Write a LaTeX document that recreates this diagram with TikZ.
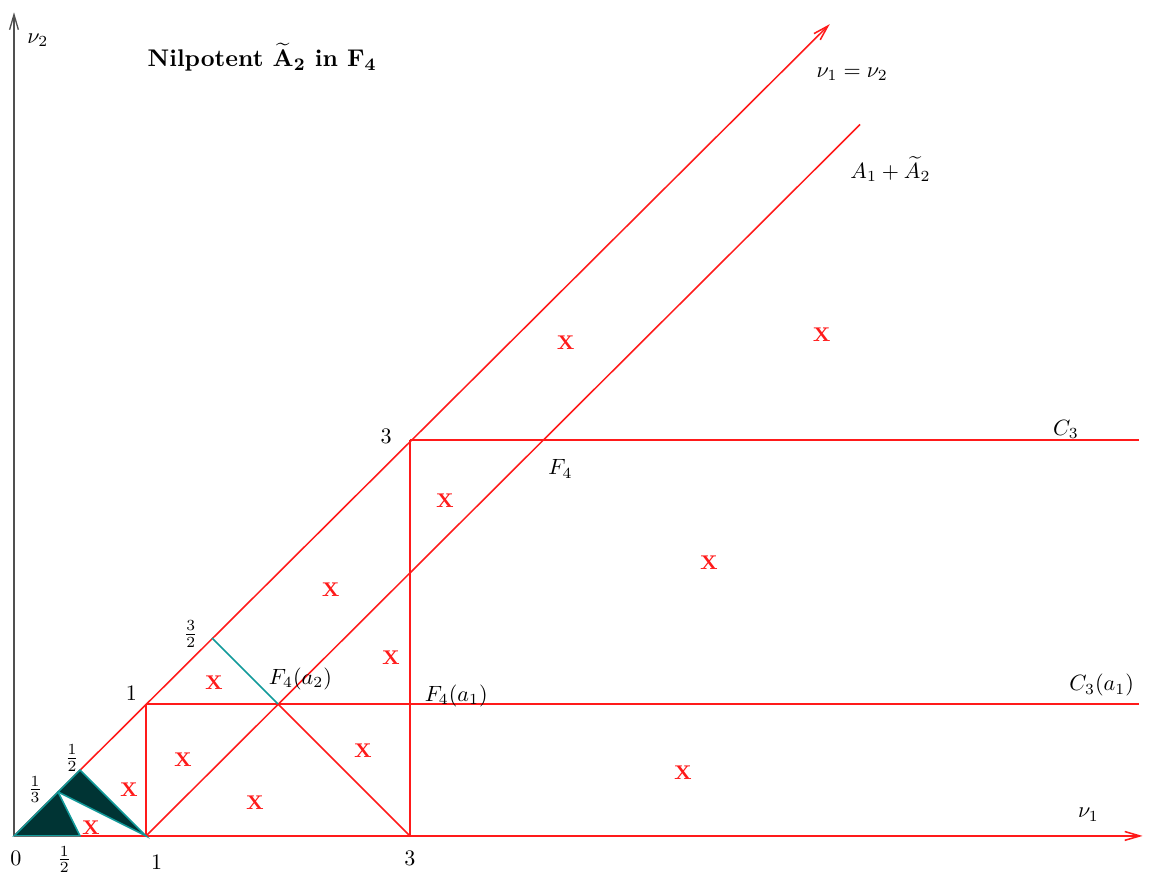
\documentclass[tikz,border=0pt]{standalone}
\usepackage{amsmath,amssymb}
\usetikzlibrary{arrows.meta,calc}
\definecolor{WallRed}{HTML}{FF1A1A}
\definecolor{EdgeTeal}{HTML}{129A9A}
\definecolor{CellDark}{HTML}{003434}
\definecolor{AxisGray}{HTML}{505050}
\newcommand{\titletext}{\textbf{\mathversion{bold}Nilpotent $\widetilde{\mathbf{A}}_{\mathbf{2}}$ in $\mathbf{F_4}$}}

\begin{document}
\begin{tikzpicture}[x=2.1cm, y=2.1cm,
    wall/.style={WallRed, line width=0.7pt},
    edge/.style={EdgeTeal, line width=0.7pt},
    tip/.style={-{Straight Barb[length=2.4mm, width=1.4mm]}},
    xmark/.style={text=WallRed, font=\small\bfseries},
    lbl/.style={inner sep=1pt}]
  \useasboundingbox (-0.106,-0.348) rectangle (8.644,6.333);

  % Corners of the walls.
  \coordinate (O) at (0,0);
  \coordinate (Hx) at (0.5,0);
  \coordinate (Th) at (1/3,1/3);
  \coordinate (Hd) at (0.5,0.5);
  \coordinate (E1) at (1,0);
  \coordinate (D1) at (1,1);
  \coordinate (Dm) at (1.5,1.5);
  \coordinate (M) at (2,1);
  \coordinate (E3) at (3,0);
  \coordinate (D3) at (3,3);
  \coordinate (Xtip) at (8.55,0);
  \coordinate (Ytip) at (0,6.24);
  \coordinate (Dtip) at (6.18,6.15);
  \coordinate (Aend) at (6.41,5.39);
  \coordinate (C1end) at (8.52,1);
  \coordinate (C3end) at (8.52,3);

  % Axes and the reducibility walls.
  \draw[tip, AxisGray, line width=0.6pt] (O) -- (Ytip);
  \draw[tip, wall] (O) -- (Xtip);
  \draw[tip, wall] (O) -- (Dtip);
  \draw[wall] (E1) -- (Aend);
  \draw[wall] (D1) -- (C1end);
  \draw[wall] (D3) -- (C3end);
  \draw[wall] (E1) -- (D1);
  \draw[wall] (E3) -- (D3);
  \draw[wall] (M) -- (E3);
  \draw[edge] (Dm) -- (M);

  % Unitary region near the origin.
  \filldraw[CellDark, draw=EdgeTeal, line width=0.7pt] (O) -- (Th) -- (Hx) -- cycle;
  \filldraw[CellDark, draw=EdgeTeal, line width=0.7pt] (Th) -- (Hd) -- (E1) -- cycle;

  % Non-unitary cells.
  \foreach \x/\y [count=\i] in {0.583/0.061,0.871/0.348,1.28/0.576,1.515/1.159,
      1.826/0.25,2.40/1.864,2.856/1.348,2.644/0.644,3.265/2.538,4.18/3.74,
      5.265/2.068,6.12/3.795,5.068/0.477}{
    \node[xmark] (x\i) at (\x,\y) {X};
  }

  % Labels.
  \node[lbl] (nu2) at (0.18,6.03) {$\nu_2$};
  \node[lbl] (nu1) at (8.14,0.16) {$\nu_1$};
  \node[lbl, font=\fontsize{10.9}{13}\selectfont] (title) at (1.88,5.90) {\titletext};
  \node[lbl] (diag) at (6.35,5.77) {$\nu_1=\nu_2$};
  \node[lbl] (aone) at (6.64,5.05) {$A_1+\widetilde{A}_2$};
  \node[lbl] (cthree) at (7.97,3.08) {$C_3$};
  \node[lbl] (ffour) at (4.14,2.78) {$F_4$};
  \node[lbl] (cthreea) at (8.24,1.14) {$C_3(a_1)$};
  \node[lbl] (ffoura) at (3.35,1.06) {$F_4(a_1)$};
  \node[lbl] (ffourb) at (2.17,1.19) {$F_4(a_2)$};
  \node[lbl] (one) at (0.89,1.08) {$1$};
  \node[lbl] (three) at (2.82,3.03) {$3$};
  \node[lbl] (threehalf) at (1.34,1.53) {$\frac{3}{2}$};
  \node[lbl] (halfd) at (0.44,0.59) {$\frac{1}{2}$};
  \node[lbl] (third) at (0.16,0.35) {$\frac{1}{3}$};
  \node[lbl] (zero) at (0.015,-0.17) {$0$};
  \node[lbl] (halfx) at (0.38,-0.18) {$\frac{1}{2}$};
  \node[lbl] (onex) at (1.08,-0.2) {$1$};
  \node[lbl] (threex) at (3.0,-0.17) {$3$};
\end{tikzpicture}
\end{document}
